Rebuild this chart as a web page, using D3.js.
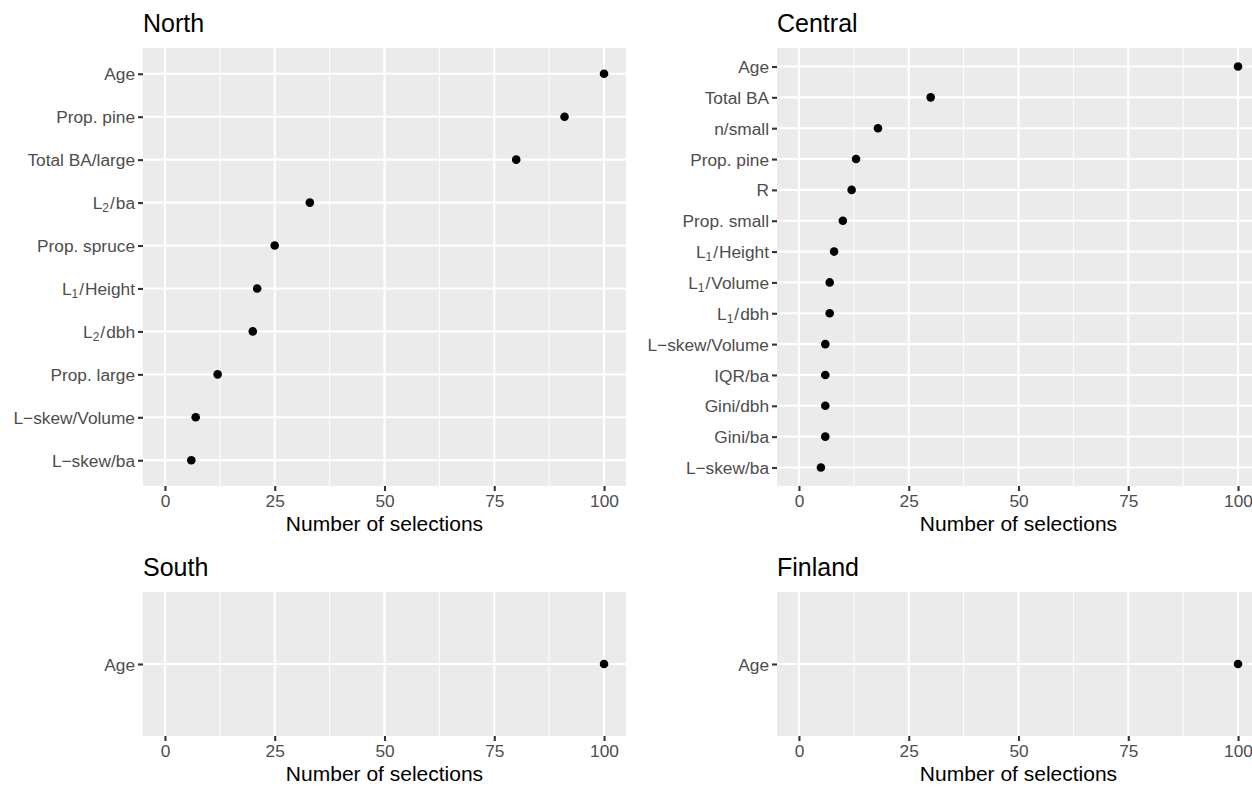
<!DOCTYPE html>
<html>
<head>
<meta charset="utf-8">
<script src="https://cdn.jsdelivr.net/npm/d3@7"></script>
<style>
    body { margin: 0; background: #fff; }
    #chart { width: 1252px; height: 787px; overflow: hidden; }
    text { font-family: "Liberation Sans", Arial, Helvetica, sans-serif; }
</style>
</head>
<body>
<div id="chart"></div>
<script>

// data (top of each panel first)
let northVars = ["Age", "Prop. pine", "Total BA/large", "L_2/ba", "Prop. spruce", "L_1/Height",
    "L_2/dbh", "Prop. large", "L\u2212skew/Volume", "L\u2212skew/ba"];
let northCounts = [100, 91, 80, 33, 25, 21, 20, 12, 7, 6];

let centralVars = ["Age", "Total BA", "n/small", "Prop. pine", "R", "Prop. small", "L_1/Height",
    "L_1/Volume", "L_1/dbh", "L\u2212skew/Volume", "IQR/ba", "Gini/dbh", "Gini/ba", "L\u2212skew/ba"];
let centralCounts = [100, 30, 18, 13, 12, 10, 8, 7, 7, 6, 6, 6, 6, 5];

let southVars = ["Age"];
let southCounts = [100];

let finlandVars = ["Age"];
let finlandCounts = [100];

let xTicks = [0, 25, 50, 75, 100];
let xMinorTicks = [12.5, 37.5, 62.5, 87.5];
let xLimits = [0, 100];
let xLabel = "Number of selections";


class DotPanel {

    constructor(svg, title, vars, counts, box) {
        this.svg = svg;
        this.title = title;
        this.data = vars.map((v, i) => ({name: v, count: counts[i]}));
        this.box = box;

        this.initVis();
    }

    initVis() {
        let vis = this;
        let b = vis.box;

        vis.g = vis.svg.append("g")
            .attr("transform", `translate(${b.left}, ${b.top})`);

        // ggplot style expansion: 5% on the continuous axis, 0.6 units on the discrete one
        let pad = (xLimits[1] - xLimits[0]) * 0.05;
        vis.x = d3.scaleLinear()
            .domain([xLimits[0] - pad, xLimits[1] + pad])
            .range([0, b.width]);

        vis.y = d3.scalePoint()
            .domain(vis.data.map(d => d.name))
            .range([0, b.height])
            .padding(0.6);

        vis.updateVis();
    }

    updateVis() {
        let vis = this;
        let b = vis.box;

        // panel title
        vis.g.append("text")
            .attr("x", 0)
            .attr("y", -16)
            .attr("font-size", 25)
            .attr("fill", "#000")
            .text(vis.title);

        // background
        vis.g.append("rect")
            .attr("width", b.width)
            .attr("height", b.height)
            .attr("fill", "#EBEBEB");

        // grid
        vis.g.selectAll(".minor-x")
            .data(xMinorTicks)
            .enter().append("line")
            .attr("x1", d => vis.x(d)).attr("x2", d => vis.x(d))
            .attr("y1", 0).attr("y2", b.height)
            .attr("stroke", "#fff").attr("stroke-width", 1);

        vis.g.selectAll(".major-x")
            .data(xTicks)
            .enter().append("line")
            .attr("x1", d => vis.x(d)).attr("x2", d => vis.x(d))
            .attr("y1", 0).attr("y2", b.height)
            .attr("stroke", "#fff").attr("stroke-width", 2.1);

        vis.g.selectAll(".major-y")
            .data(vis.data)
            .enter().append("line")
            .attr("x1", 0).attr("x2", b.width)
            .attr("y1", d => vis.y(d.name)).attr("y2", d => vis.y(d.name))
            .attr("stroke", "#fff").attr("stroke-width", 2.1);

        // x axis
        let xAxis = d3.axisBottom(vis.x)
            .tickValues(xTicks)
            .tickSize(5)
            .tickPadding(4)
            .tickFormat(d3.format("d"));

        let xg = vis.g.append("g")
            .attr("transform", `translate(0, ${b.height})`)
            .call(xAxis);
        xg.select(".domain").remove();
        xg.selectAll(".tick line").attr("stroke", "#333333").attr("stroke-width", 2.1);
        xg.selectAll(".tick text")
            .attr("font-size", 17.3)
            .attr("font-family", "Liberation Sans, Arial, sans-serif")
            .attr("fill", "#4D4D4D");

        // y axis
        let yAxis = d3.axisLeft(vis.y)
            .tickSize(5)
            .tickPadding(4)
            .tickFormat("");

        let yg = vis.g.append("g").call(yAxis);
        yg.select(".domain").remove();
        yg.selectAll(".tick line").attr("stroke", "#333333").attr("stroke-width", 2.1);

        // y labels, with subscripts where needed (L_1/..)
        yg.selectAll(".tick").each(function(d) {
            let t = d3.select(this).append("text")
                .attr("x", -8)
                .attr("dy", "0.35em")
                .attr("text-anchor", "end")
                .attr("font-size", 17.3)
                .attr("fill", "#4D4D4D");
            let m = d.match(/^L_(\d)\/(.*)$/);
            if (m) {
                t.append("tspan").text("L");
                t.append("tspan").attr("font-size", 12).attr("dy", 3).text(m[1]);
                t.append("tspan").attr("dy", -3).attr("dx", 1).text("/");
                t.append("tspan").attr("dx", 1).text(m[2]);
            } else {
                t.text(d);
            }
        });

        // axis title
        vis.g.append("text")
            .attr("x", b.width / 2)
            .attr("y", b.height + 45)
            .attr("text-anchor", "middle")
            .attr("font-size", 21)
            .attr("fill", "#000")
            .text(xLabel);

        // points
        vis.g.selectAll(".dot")
            .data(vis.data)
            .enter().append("circle")
            .attr("class", "dot")
            .attr("cx", d => vis.x(d.count))
            .attr("cy", d => vis.y(d.name))
            .attr("r", 4.3)
            .attr("fill", "#000");
    }
}


let svg = d3.select("#chart").append("svg")
    .attr("width", 1252)
    .attr("height", 787);

svg.append("rect").attr("width", 1252).attr("height", 787).attr("fill", "#fff");

let panelWidth = 483;
new DotPanel(svg, "North", northVars, northCounts, {left: 143, top: 48, width: panelWidth, height: 438});
new DotPanel(svg, "Central", centralVars, centralCounts, {left: 777, top: 48, width: panelWidth, height: 438});
new DotPanel(svg, "South", southVars, southCounts, {left: 143, top: 592, width: panelWidth, height: 144});
new DotPanel(svg, "Finland", finlandVars, finlandCounts, {left: 777, top: 592, width: panelWidth, height: 144});

</script>
</body>
</html>
